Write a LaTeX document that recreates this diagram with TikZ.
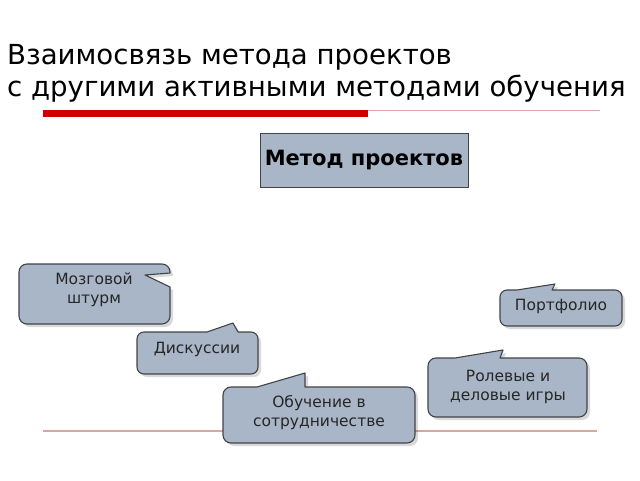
\documentclass[tikz,border=0pt]{standalone}
\usepackage{fontspec}
\setmainfont{DejaVu Sans}
\definecolor{boxfill}{HTML}{A8B6C7}
\definecolor{boxline}{HTML}{404448}
\definecolor{barred}{HTML}{CC0000}
\definecolor{thinred}{HTML}{E0A8A8}
\definecolor{basered}{HTML}{D8A89F}
\tikzset{
  callout/.style={fill=boxfill, draw=boxline, line width=1.1pt, line join=round},
  cshadow/.style={fill=black, opacity=0.15},
  ctext/.style={font=\fontsize{15.5}{19}\selectfont, align=center, text=black!85, inner sep=0pt},
  ttext/.style={anchor=base west, inner sep=0pt, font=\fontsize{27.6}{28}\selectfont},
}
\begin{document}
\begin{tikzpicture}[x=1pt,y=-1pt]
\useasboundingbox (0,0) rectangle (640,480);
% title
\node[ttext] (t1) at (7,64) {Взаимосвязь метода проектов};
\node[ttext] (t2) at (7,96) {с другими активными методами обучения};
% red lines
\coordinate (r1) at (43,113.5);
\coordinate (r2) at (368,113.5);
\coordinate (r3) at (600,110.5);
\coordinate (r2b) at (368,110.5);
\draw[thinred, line width=1pt] (r2b) -- (r3);
\draw[barred, line width=7pt] (r1) -- (r2);
\coordinate (b1) at (43,431);
\coordinate (b2) at (597,431);
\draw[basered, line width=1.6pt] (b1) -- (b2);
% main box
\node[draw=boxline, fill=boxfill, line width=1pt, minimum width=208pt, minimum height=54pt, inner sep=0pt,
  font=\fontsize{21}{21}\selectfont\bfseries] (main) at (364,160) {Метод проектов};
% callout 1 (notch on right edge)
\foreach \dx/\st in {3/cshadow, 0/callout}{
\path[\st, shift={(\dx,\dx)}] (170,273) [sharp corners] -- (145,275) -- (170,287)
  [rounded corners=8pt] -- (170,324) -- (19,324) -- (19,264) -- (170,264) [sharp corners] -- cycle;
}
% callout 2
\foreach \dx/\st in {3/cshadow, 0/callout}{
\path[\st, shift={(\dx,\dx)}] (207,332) [sharp corners] -- (233,323) -- (238,332)
  [rounded corners=7pt] -- (258,332) -- (258,374) -- (137,374) -- (137,332) [sharp corners] -- cycle;
}
% callout 3
\foreach \dx/\st in {3/cshadow, 0/callout}{
\path[\st, shift={(\dx,\dx)}] (257,387) [sharp corners] -- (305,373) -- (305,387)
  [rounded corners=8pt] -- (415,387) -- (415,443) -- (223,443) -- (223,387) [sharp corners] -- cycle;
}
% callout 4
\foreach \dx/\st in {3/cshadow, 0/callout}{
\path[\st, shift={(\dx,\dx)}] (517,290) [sharp corners] -- (555,284) -- (552,290)
  [rounded corners=7pt] -- (622,290) -- (622,326) -- (500,326) -- (500,290) [sharp corners] -- cycle;
}
% callout 5
\foreach \dx/\st in {3/cshadow, 0/callout}{
\path[\st, shift={(\dx,\dx)}] (455,358) [sharp corners] -- (503,350) -- (500,358)
  [rounded corners=8pt] -- (587,358) -- (587,417) -- (428,417) -- (428,358) [sharp corners] -- cycle;
}
\node[ctext] (c1) at (94,290) {Мозговой\\штурм};
\node[ctext] (c2) at (197,349) {Дискуссии};
\node[ctext] (c3) at (319,413) {Обучение в\\сотрудничестве};
\node[ctext] (c4) at (561,306) {Портфолио};
\node[ctext] (c5) at (508,387) {Ролевые и\\деловые игры};
\end{tikzpicture}
\end{document}
